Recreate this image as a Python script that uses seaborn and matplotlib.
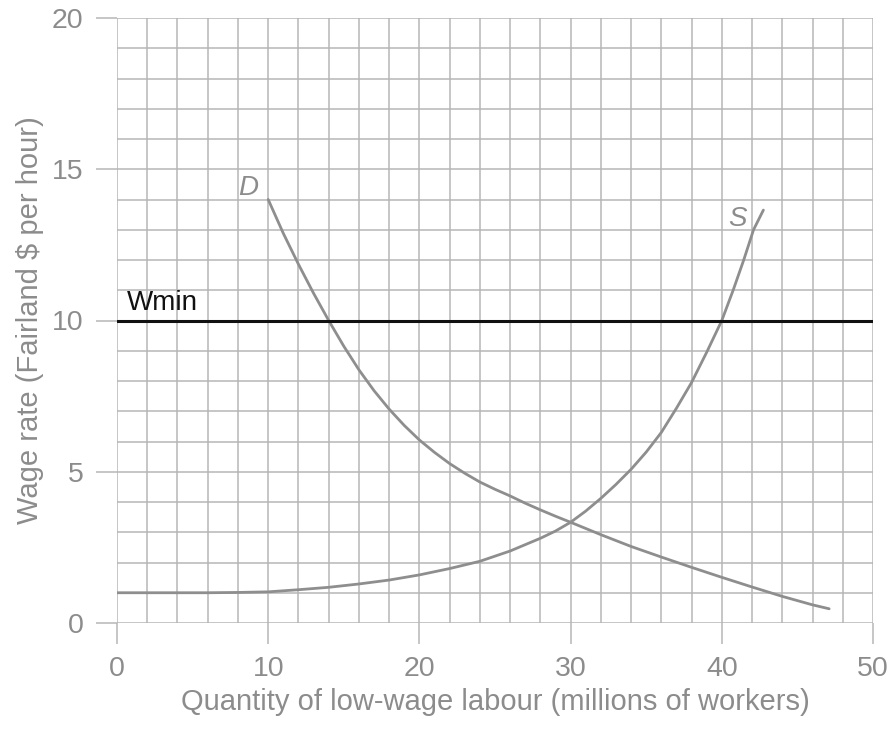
import matplotlib
matplotlib.use("Agg")
import matplotlib.pyplot as plt
import seaborn as sns
import pandas as pd
import numpy as np

# Demand curve
d_x = [10, 11, 12, 13, 14, 15, 16, 17, 18, 19, 20, 21, 22, 23, 24, 25, 26, 27, 28, 29, 30,
       32, 34, 36, 38, 40, 42, 44, 46, 47.1]
d_y = [14.0, 12.88, 11.86, 10.9, 10.0, 9.15, 8.37, 7.68, 7.07, 6.53, 6.05, 5.64, 5.27, 4.95, 4.66, 4.42,
       4.2, 3.96, 3.74, 3.53, 3.33, 2.92, 2.53, 2.18, 1.84, 1.51, 1.19, 0.88, 0.6, 0.47]

# Supply curve
s_x = [0, 2, 4, 6, 8, 10, 12, 14, 16, 18, 20, 22, 24, 26, 28, 29, 30, 31, 32, 33, 34, 35, 36, 37, 38,
       39, 40, 40.75, 41.45, 42.1, 42.75]
s_y = [1.0, 1.0, 1.0, 1.0, 1.01, 1.03, 1.1, 1.18, 1.29, 1.42, 1.59, 1.8, 2.04, 2.38, 2.8, 3.04, 3.33,
       3.7, 4.12, 4.58, 5.08, 5.65, 6.3, 7.1, 7.95, 8.95, 10.0, 11.0, 12.0, 13.0, 13.65]

wmin = 10
x_ticks = [0, 10, 20, 30, 40, 50]
y_ticks = [0, 5, 10, 15, 20]
x_label = "Quantity of low-wage labour (millions of workers)"
y_label = "Wage rate (Fairland $ per hour)"

sns.set_theme(style="white")
plt.rcParams['font.family'] = ['Liberation Sans', 'DejaVu Sans']

fig = plt.figure(figsize=(8.89, 7.33), dpi=100)
ax = fig.add_axes([117/889, 1 - 623/733, (873-117)/889, (623-18)/733])

grid_col = "#b6b6b6"
text_col = "#8c8c8c"
curve_col = "#8e8e8e"

df = pd.concat([
    pd.DataFrame({"q": d_x, "w": d_y, "curve": "D"}),
    pd.DataFrame({"q": s_x, "w": s_y, "curve": "S"}),
], ignore_index=True)

sns.lineplot(data=df, x="q", y="w", units="curve", estimator=None, sort=False,
             color=curve_col, linewidth=2.0, ax=ax, zorder=3)
ax.axhline(wmin, color="#111111", linewidth=2.2, zorder=4)

ax.set_xlim(0, 50)
ax.set_ylim(0, 20)
ax.set_xticks(x_ticks)
ax.set_yticks(y_ticks)
ax.set_xticks(np.arange(0, 51, 2), minor=True)
ax.set_yticks(np.arange(0, 21, 1), minor=True)
ax.grid(True, which="both", color=grid_col, linewidth=1.1, zorder=0)
ax.set_axisbelow(True)
for sp in ax.spines.values():
    sp.set_visible(False)

ax.tick_params(axis="both", which="major", length=15, width=1.1, color=grid_col,
               labelsize=20.5, labelcolor=text_col, pad=9, direction="out",
               bottom=True, left=True)
ax.tick_params(axis="both", which="minor", length=0)

ax.set_xlabel(x_label, fontsize=21, color=text_col, labelpad=4)
ax.set_ylabel(y_label, fontsize=21, color=text_col, labelpad=6)

ax.text(8.0, 14.15, "D", fontsize=20, fontstyle="italic", color=text_col, zorder=5)
ax.text(40.4, 13.12, "S", fontsize=20, fontstyle="italic", color=text_col, zorder=5)
ax.text(0.65, 10.35, "Wmin", fontsize=20, color="#111111", zorder=5)

fig.savefig("out.png", dpi=100)
